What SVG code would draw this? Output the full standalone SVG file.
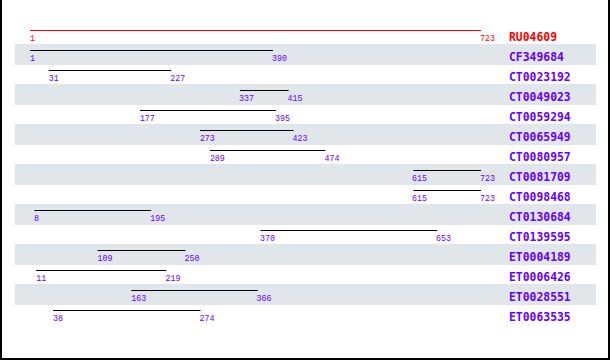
<svg xmlns="http://www.w3.org/2000/svg" width="610" height="360" viewBox="0 0 610 360">
<style>
.band{fill:#e1e6ea}
.ln{stroke:#000;stroke-width:1}
.lnr{stroke:#ff0000;stroke-width:1}
.num{font-family:"Liberation Mono","DejaVu Sans Mono",monospace;font-size:8.3px;fill:#6600ff}
.nm{font-family:"DejaVu Sans Mono","Liberation Mono",monospace;font-size:11.4px;font-weight:bold;fill:#6600ff}
.red{fill:#ff0000}
.frame{stroke:#000;stroke-width:2;fill:none}
</style>
<rect width="610" height="360" fill="#fff"/>
<g id="bands">
<rect class="band" x="15" y="44" width="581" height="21"/>
<rect class="band" x="15" y="84" width="581" height="21"/>
<rect class="band" x="15" y="124" width="581" height="21"/>
<rect class="band" x="15" y="164" width="581" height="21"/>
<rect class="band" x="15" y="204" width="581" height="21"/>
<rect class="band" x="15" y="244" width="581" height="21"/>
<rect class="band" x="15" y="284" width="581" height="21"/>
</g>
<path class="frame" d="M1,0 V359 H609 V0"/>
<g id="connectors">
<line class="lnr" x1="30" y1="30.5" x2="481" y2="30.5"/>
<line class="ln" x1="30" y1="50.5" x2="273" y2="50.5"/>
<line class="ln" x1="48.7" y1="70.5" x2="171.2" y2="70.5"/>
<line class="ln" x1="239.9" y1="90.5" x2="288.6" y2="90.5"/>
<line class="ln" x1="139.9" y1="110.5" x2="276.1" y2="110.5"/>
<line class="ln" x1="199.9" y1="130.5" x2="293.6" y2="130.5"/>
<line class="ln" x1="209.9" y1="150.5" x2="325.5" y2="150.5"/>
<line class="ln" x1="413.5" y1="170.5" x2="481" y2="170.5"/>
<line class="ln" x1="413.5" y1="190.5" x2="481" y2="190.5"/>
<line class="ln" x1="34.4" y1="210.5" x2="151.2" y2="210.5"/>
<line class="ln" x1="260.5" y1="230.5" x2="437.3" y2="230.5"/>
<line class="ln" x1="97.5" y1="250.5" x2="185.5" y2="250.5"/>
<line class="ln" x1="36.2" y1="270.5" x2="166.2" y2="270.5"/>
<line class="ln" x1="131.2" y1="290.5" x2="258" y2="290.5"/>
<line class="ln" x1="53.1" y1="310.5" x2="200.5" y2="310.5"/>
</g>
<g id="RU04609"><text class="num red" x="30" y="41">1</text><text class="num red" x="480" y="41">723</text><text class="nm red" x="509" y="41">RU04609</text></g>
<g id="CF349684"><text class="num" x="30" y="61">1</text><text class="num" x="272" y="61">390</text><text class="nm" x="509" y="61">CF349684</text></g>
<g id="CT0023192"><text class="num" x="48.7" y="81">31</text><text class="num" x="170.2" y="81">227</text><text class="nm" x="509" y="81">CT0023192</text></g>
<g id="CT0049023"><text class="num" x="239" y="101">337</text><text class="num" x="287.6" y="101">415</text><text class="nm" x="509" y="101">CT0049023</text></g>
<g id="CT0059294"><text class="num" x="139.9" y="121">177</text><text class="num" x="275.1" y="121">395</text><text class="nm" x="509" y="121">CT0059294</text></g>
<g id="CT0065949"><text class="num" x="199.9" y="141">273</text><text class="num" x="292.6" y="141">423</text><text class="nm" x="509" y="141">CT0065949</text></g>
<g id="CT0080957"><text class="num" x="209.9" y="161">289</text><text class="num" x="324.5" y="161">474</text><text class="nm" x="509" y="161">CT0080957</text></g>
<g id="CT0081709"><text class="num" x="412" y="181">615</text><text class="num" x="480" y="181">723</text><text class="nm" x="509" y="181">CT0081709</text></g>
<g id="CT0098468"><text class="num" x="412" y="201">615</text><text class="num" x="480" y="201">723</text><text class="nm" x="509" y="201">CT0098468</text></g>
<g id="CT0130684"><text class="num" x="34" y="221">8</text><text class="num" x="150.2" y="221">195</text><text class="nm" x="509" y="221">CT0130684</text></g>
<g id="CT0139595"><text class="num" x="260" y="241">370</text><text class="num" x="436" y="241">653</text><text class="nm" x="509" y="241">CT0139595</text></g>
<g id="ET0004189"><text class="num" x="97.5" y="261">109</text><text class="num" x="184.5" y="261">250</text><text class="nm" x="509" y="261">ET0004189</text></g>
<g id="ET0006426"><text class="num" x="36.2" y="281">11</text><text class="num" x="165.5" y="281">219</text><text class="nm" x="509" y="281">ET0006426</text></g>
<g id="ET0028551"><text class="num" x="131.2" y="301">163</text><text class="num" x="256.5" y="301">366</text><text class="nm" x="509" y="301">ET0028551</text></g>
<g id="ET0063535"><text class="num" x="53.1" y="321">38</text><text class="num" x="199.5" y="321">274</text><text class="nm" x="509" y="321">ET0063535</text></g>
</svg>
